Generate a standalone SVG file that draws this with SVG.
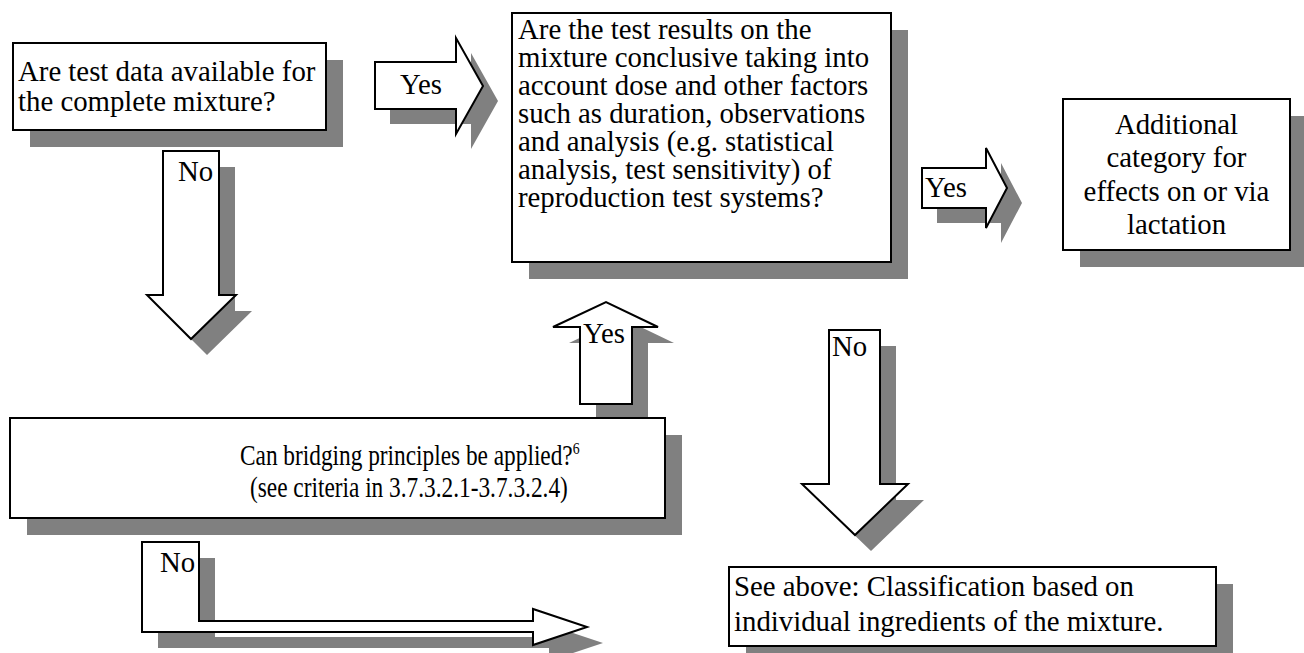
<svg xmlns="http://www.w3.org/2000/svg" width="1304" height="653" viewBox="0 0 1304 653">
<style>
.bg{fill:#ffffff}
.sh{fill:#808080;stroke:none}
.bx{fill:#ffffff;stroke:#000000;stroke-width:2}
.t{font-family:"Liberation Serif","Times New Roman",serif;font-size:28.8px;fill:#000000}
.c{text-anchor:middle}
.sup{font-size:17px}
</style>
<rect class="bg" x="0" y="0" width="1304" height="653"/>
<g id="connectors">
  <g id="arrow-yes1">
    <polygon class="sh" transform="translate(15,15)" points="375,62 456,62 456,38 483,86 456,134 456,109 375,109"/>
    <polygon class="bx" points="375,62 456,62 456,38 483,86 456,134 456,109 375,109"/>
    <text class="t" x="400" y="94">Yes</text>
  </g>
  <g id="arrow-yes2">
    <polygon class="sh" transform="translate(15,15)" points="922,168 986,168 986,148 1007,188 986,228 986,208 922,208"/>
    <polygon class="bx" points="922,168 986,168 986,148 1007,188 986,228 986,208 922,208"/>
    <text class="t" x="925" y="197">Yes</text>
  </g>
  <g id="arrow-no1">
    <polygon class="sh" transform="translate(16,16)" points="163,151 219,151 219,295 236,295 191,339 147,295 163,295"/>
    <polygon class="bx" points="163,151 219,151 219,295 236,295 191,339 147,295 163,295"/>
    <text class="t" x="178" y="181">No</text>
  </g>
  <g id="arrow-yes-up">
    <polygon class="sh" transform="translate(16,16)" points="580,404 580,327 553,327 606,302 658,327 632,327 632,404"/>
    <polygon class="bx" points="580,404 580,327 553,327 606,302 658,327 632,327 632,404"/>
    <text class="t" x="583" y="343">Yes</text>
  </g>
  <g id="arrow-no3">
    <polygon class="sh" transform="translate(16,16)" points="829,330 880,330 880,484 908,484 855,535 802,484 829,484"/>
    <polygon class="bx" points="829,330 880,330 880,484 908,484 855,535 802,484 829,484"/>
    <text class="t" x="832" y="356">No</text>
  </g>
  <g id="arrow-no2">
    <polygon class="sh" transform="translate(16,16)" points="142,542 199,542 199,621 533,621 533,609 587,627 533,645 533,632 142,632"/>
    <polygon class="bx" points="142,542 199,542 199,621 533,621 533,609 587,627 533,645 533,632 142,632"/>
    <text class="t" x="160" y="572">No</text>
  </g>
</g>
<g id="node-test-data">
  <rect class="sh" x="30" y="60" width="313" height="87"/>
  <rect class="bx" x="13" y="43" width="313" height="87"/>
  <text class="t" x="18" y="81">Are test data available for</text>
  <text class="t" x="18" y="111">the complete mixture?</text>
</g>
<g id="node-conclusive">
  <rect class="sh" x="529" y="30" width="379" height="249"/>
  <rect class="bx" x="512" y="13" width="379" height="249"/>
  <text class="t" x="518" y="39">Are the test results on the</text>
  <text class="t" x="518" y="67">mixture conclusive taking into</text>
  <text class="t" x="518" y="95">account dose and other factors</text>
  <text class="t" x="518" y="123">such as duration, observations</text>
  <text class="t" x="518" y="151">and analysis (e.g. statistical</text>
  <text class="t" x="518" y="179">analysis, test sensitivity) of</text>
  <text class="t" x="518" y="207">reproduction test systems?</text>
</g>
<g id="node-lactation">
  <rect class="sh" x="1080" y="116" width="227" height="151"/>
  <rect class="bx" x="1063" y="99" width="227" height="151"/>
  <text class="t c" x="1176.5" y="134">Additional</text>
  <text class="t c" x="1176.5" y="167">category for</text>
  <text class="t c" x="1176.5" y="201">effects on or via</text>
  <text class="t c" x="1176.5" y="234">lactation</text>
</g>
<g id="node-bridging">
  <rect class="sh" x="27" y="435" width="655" height="100"/>
  <rect class="bx" x="10" y="418" width="655" height="100"/>
  <text class="t" transform="scale(0.81,1)" x="296.3" y="465">Can bridging principles be applied?<tspan class="sup" dy="-11">6</tspan></text>
  <text class="t" transform="scale(0.81,1)" x="308.6" y="497">(see criteria in 3.7.3.2.1-3.7.3.2.4)</text>
</g>
<g id="node-see-above">
  <rect class="sh" x="746" y="584" width="487" height="79"/>
  <rect class="bx" x="729" y="567" width="487" height="79"/>
  <text class="t" x="734" y="596">See above: Classification based on</text>
  <text class="t" x="734" y="631">individual ingredients of the mixture.</text>
</g>
</svg>
